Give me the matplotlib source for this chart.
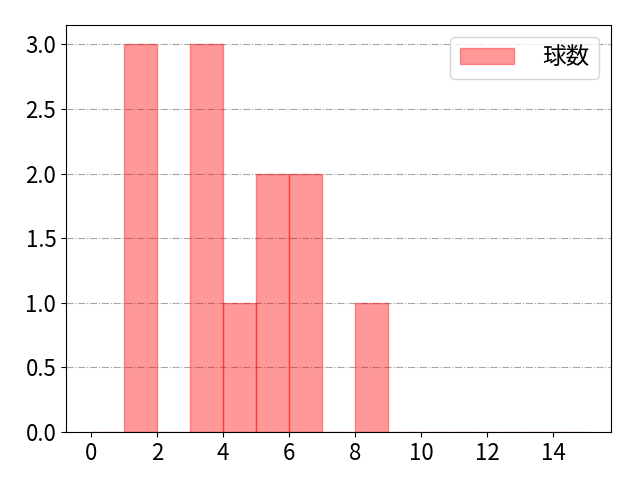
import matplotlib
matplotlib.use("Agg")
import matplotlib.pyplot as plt
import numpy as np

plt.rcParams['font.family'] = ['Noto Sans CJK JP', 'DejaVu Sans']

bin_edges = list(range(0, 16))
counts = [0, 3, 0, 3, 1, 2, 2, 0, 1, 0, 0, 0, 0, 0, 0]
x_ticks = [0, 2, 4, 6, 8, 10, 12, 14]
label = "球数"

fig, ax = plt.subplots(figsize=(6.4, 4.8), dpi=100)
ax.hist(bin_edges[:-1], bins=bin_edges, weights=counts, color='red', alpha=0.4,
        edgecolor='red', linewidth=1, label=label)
ax.set_xticks(x_ticks)
ax.grid(axis='y', linestyle='-.', color='gray', alpha=0.7)
ax.set_axisbelow(True)
ax.tick_params(labelsize=16)
ax.legend(fontsize=17, loc='upper right', handlelength=2.3, handletextpad=1.2)
fig.subplots_adjust(left=66/640, right=611/640, top=1-25/480, bottom=1-432/480)
fig.savefig("out.png")
